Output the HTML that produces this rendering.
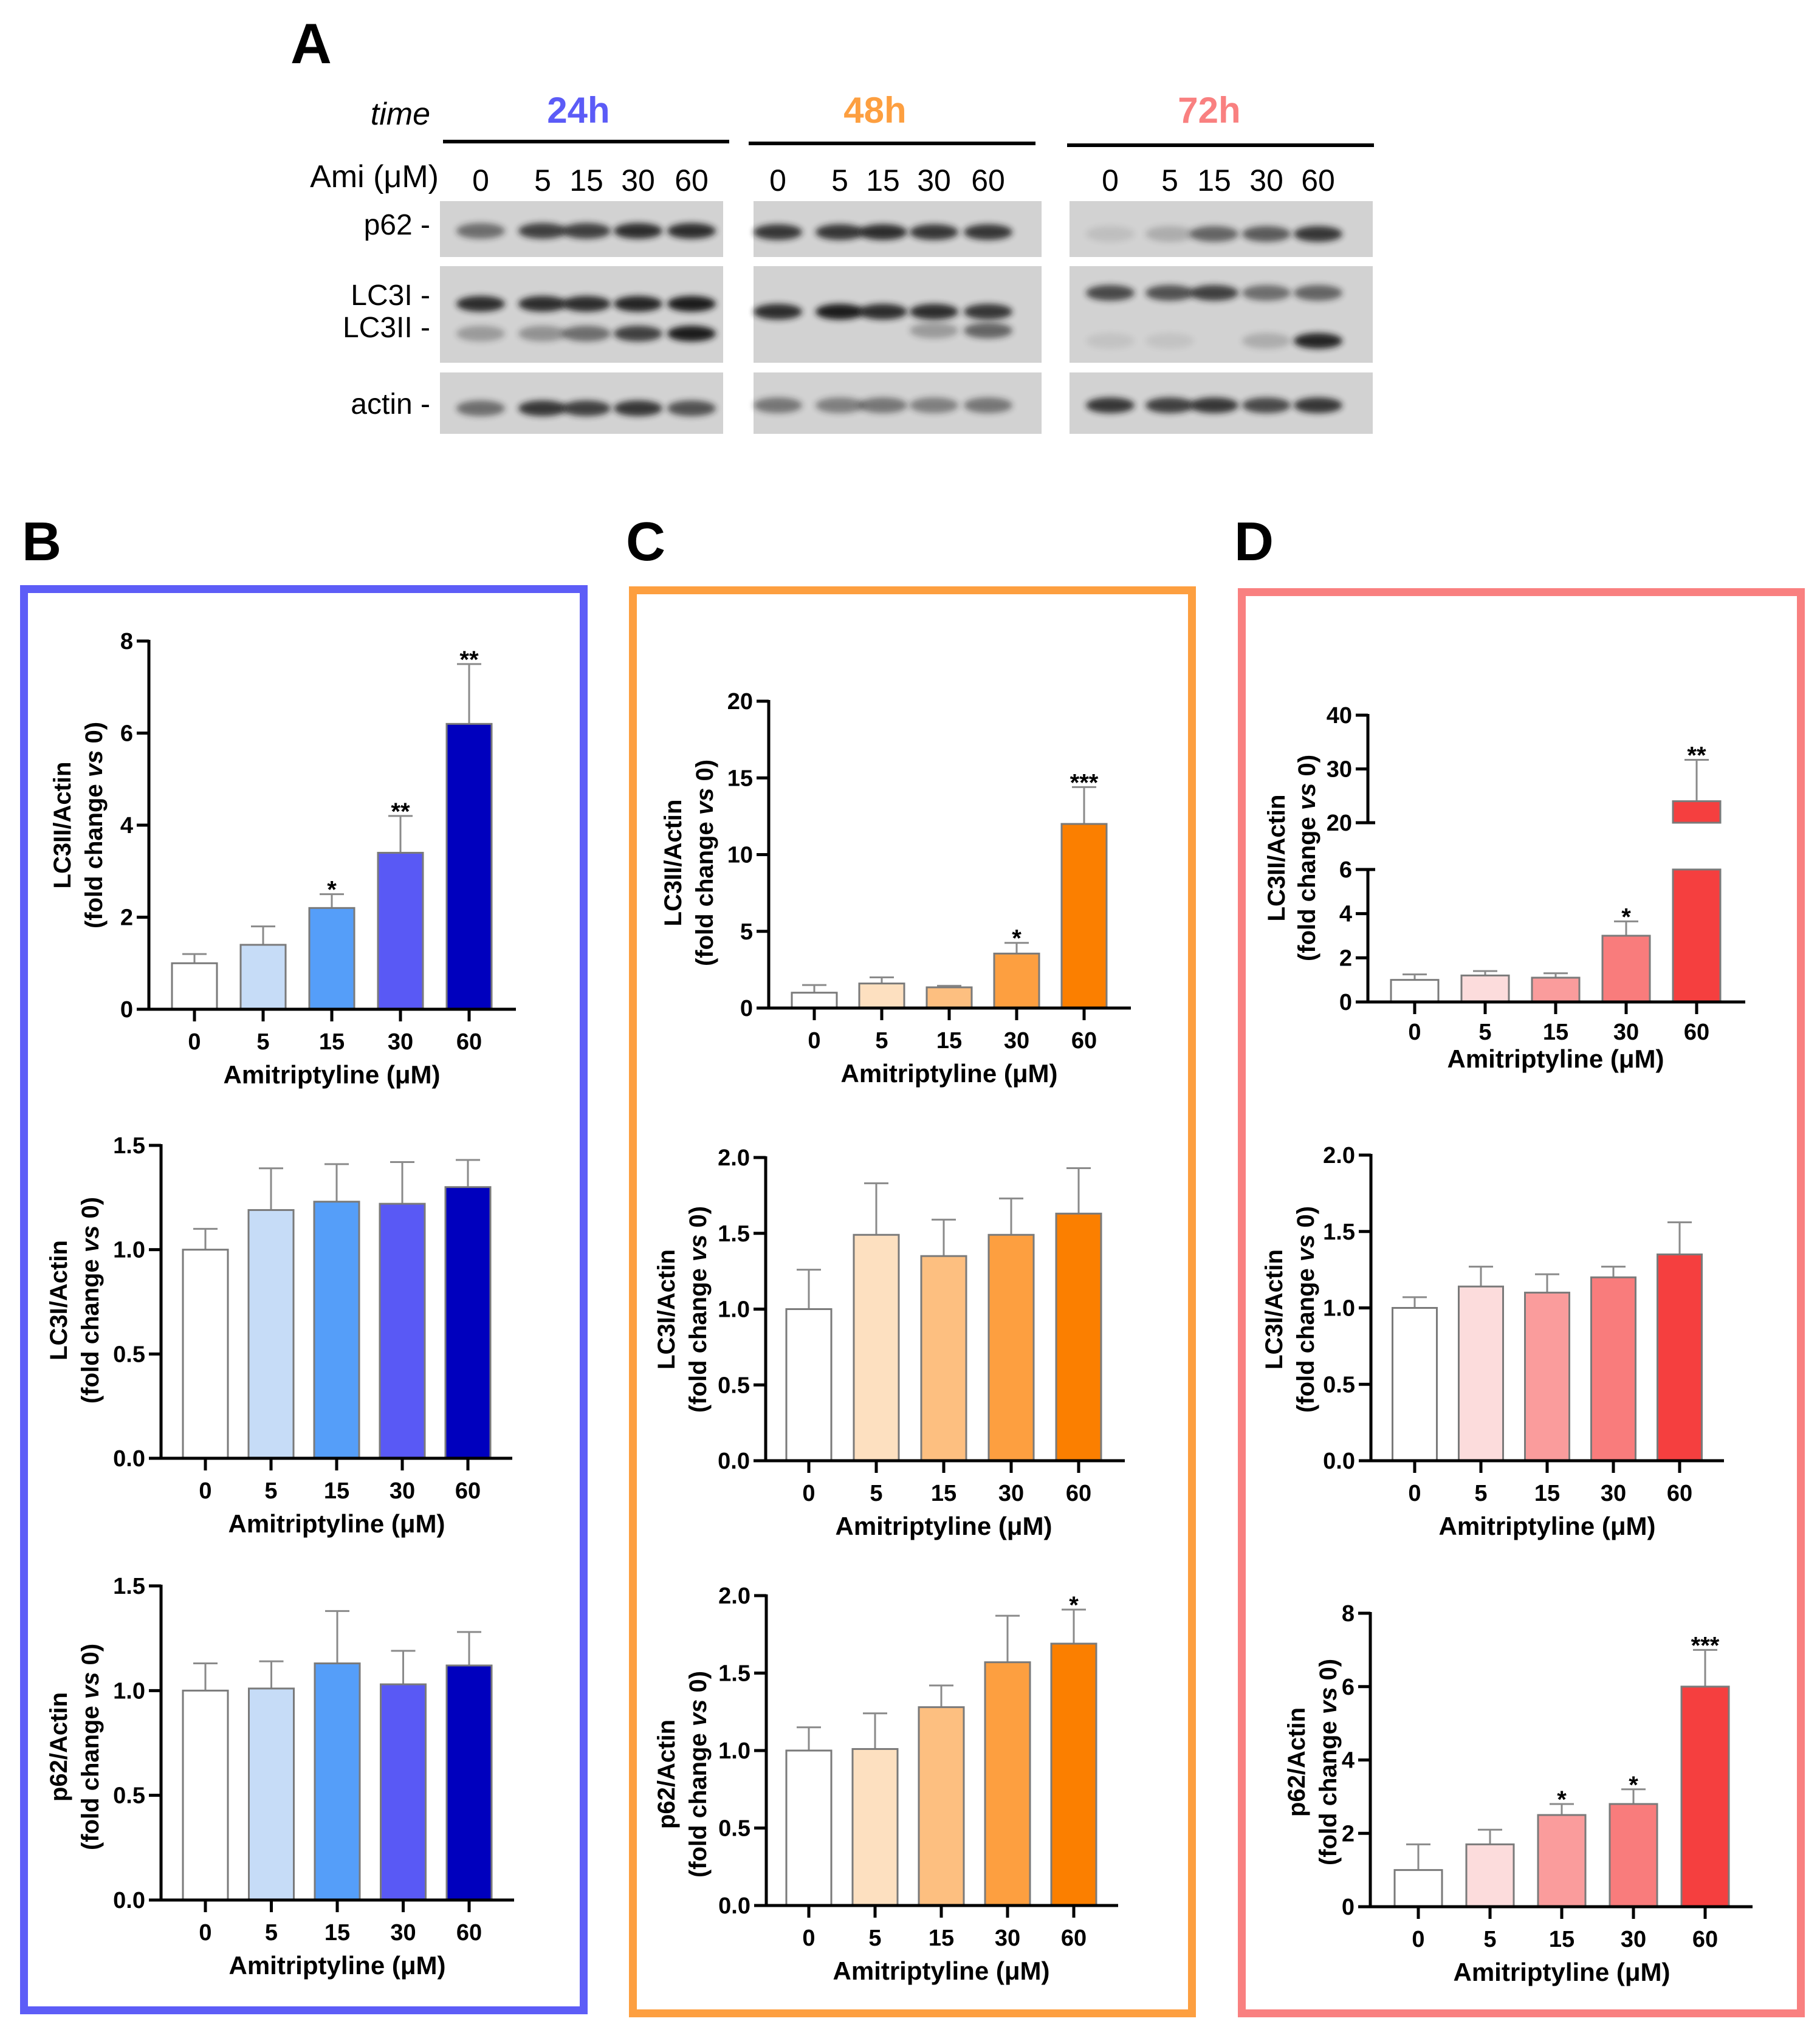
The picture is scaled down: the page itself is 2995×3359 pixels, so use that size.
<!DOCTYPE html>
<html><head><meta charset="utf-8"><style>
html,body{margin:0;padding:0;background:#fff}
svg{display:block}
text{font-family:"Liberation Sans",Arial,sans-serif}
</style></head><body>
<svg id="fig" width="2995" height="3359" viewBox="0 0 2995 3359" xmlns="http://www.w3.org/2000/svg">
<defs><filter id="blur" x="-50%" y="-100%" width="200%" height="300%"><feGaussianBlur stdDeviation="5"/></filter></defs>
<rect x="0" y="0" width="2995" height="3359" fill="#fff"/>

<!-- Panel A -->
<g>
<text x="478" y="104" font-size="94" font-weight="bold">A</text>
<text x="708" y="205" font-size="52" font-style="italic" text-anchor="end">time</text>
<text x="952" y="202" font-size="60" font-weight="bold" fill="#5b5bf7" text-anchor="middle">24h</text>
<text x="1440" y="202" font-size="60" font-weight="bold" fill="#fd9f40" text-anchor="middle">48h</text>
<text x="1990" y="202" font-size="60" font-weight="bold" fill="#f98080" text-anchor="middle">72h</text>
<rect x="729" y="230" width="471" height="6" fill="#000"/>
<rect x="1232" y="233" width="472" height="6" fill="#000"/>
<rect x="1756" y="236" width="505" height="6" fill="#000"/>
<text x="722" y="308" font-size="52" text-anchor="end">Ami (μM)</text>
<g id="lanes"></g>
<text x="708" y="386" font-size="48" text-anchor="end">p62 -</text>
<text x="708" y="502" font-size="48" text-anchor="end">LC3I -</text>
<text x="708" y="555" font-size="48" text-anchor="end">LC3II -</text>
<text x="708" y="681" font-size="48" text-anchor="end">actin -</text>
<g id="blots"></g>
</g>

<!-- Panel letters & boxes -->
<text x="36" y="922" font-size="90" font-weight="bold">B</text>
<text x="1030" y="922" font-size="90" font-weight="bold">C</text>
<text x="2031" y="922" font-size="90" font-weight="bold">D</text>
<rect x="39.5" y="969.5" width="921" height="2339" fill="none" stroke="#5d5df7" stroke-width="13"/>
<rect x="1041.5" y="971.5" width="920" height="2342" fill="none" stroke="#fd9f40" stroke-width="13"/>
<rect x="2043.5" y="974.5" width="920" height="2339" fill="none" stroke="#f98080" stroke-width="13"/>
<g id="charts"></g>
</svg>
<script>
const categories = ['0','5','15','30','60'];
const blueColors = ['#ffffff','#c6dcf7','#559ef9','#5959f5','#0000be'];
const orangeColors = ['#ffffff','#fde0c0','#fdbf80','#fd9f40','#fb7f00'];
const redColors = ['#ffffff','#fcdcdc','#fa9c9c','#f97c7c','#f53f3f'];

const b1Values = [1.0, 1.4, 2.2, 3.4, 6.2];
const b1Errors = [0.2, 0.4, 0.3, 0.8, 1.3];
const b1Stars = ['', '', '*', '**', '**'];
const b1Ticks = [0, 2, 4, 6, 8];
const b1TickLabels = ['0', '2', '4', '6', '8'];

const b2Values = [1.0, 1.19, 1.23, 1.22, 1.30];
const b2Errors = [0.10, 0.20, 0.18, 0.20, 0.13];
const b2Stars = ['', '', '', '', ''];
const b2Ticks = [0, 0.5, 1.0, 1.5];
const b2TickLabels = ['0.0', '0.5', '1.0', '1.5'];

const b3Values = [1.0, 1.01, 1.13, 1.03, 1.12];
const b3Errors = [0.13, 0.13, 0.25, 0.16, 0.16];
const b3Stars = ['', '', '', '', ''];
const b3Ticks = [0, 0.5, 1.0, 1.5];
const b3TickLabels = ['0.0', '0.5', '1.0', '1.5'];

const c1Values = [1.0, 1.6, 1.35, 3.55, 12.0];
const c1Errors = [0.5, 0.4, 0.1, 0.7, 2.4];
const c1Stars = ['', '', '', '*', '***'];
const c1Ticks = [0, 5, 10, 15, 20];
const c1TickLabels = ['0', '5', '10', '15', '20'];

const c2Values = [1.0, 1.49, 1.35, 1.49, 1.63];
const c2Errors = [0.26, 0.34, 0.24, 0.24, 0.30];
const c2Stars = ['', '', '', '', ''];
const c2Ticks = [0, 0.5, 1.0, 1.5, 2.0];
const c2TickLabels = ['0.0', '0.5', '1.0', '1.5', '2.0'];

const c3Values = [1.0, 1.01, 1.28, 1.57, 1.69];
const c3Errors = [0.15, 0.23, 0.14, 0.30, 0.22];
const c3Stars = ['', '', '', '', '*'];
const c3Ticks = [0, 0.5, 1.0, 1.5, 2.0];
const c3TickLabels = ['0.0', '0.5', '1.0', '1.5', '2.0'];

const d1Values = [1.0, 1.2, 1.1, 3.0, 24.0];
const d1Errors = [0.25, 0.2, 0.2, 0.65, 7.7];
const d1Stars = ['', '', '', '*', '**'];
const d1LowTicks = [0, 2, 4, 6];
const d1LowTickLabels = ['0', '2', '4', '6'];
const d1HighTicks = [20, 30, 40];
const d1HighTickLabels = ['20', '30', '40'];

const d2Values = [1.0, 1.14, 1.10, 1.20, 1.35];
const d2Errors = [0.07, 0.13, 0.12, 0.07, 0.21];
const d2Stars = ['', '', '', '', ''];
const d2Ticks = [0, 0.5, 1.0, 1.5, 2.0];
const d2TickLabels = ['0.0', '0.5', '1.0', '1.5', '2.0'];

const d3Values = [1.0, 1.7, 2.5, 2.8, 6.0];
const d3Errors = [0.7, 0.4, 0.3, 0.4, 1.0];
const d3Stars = ['', '', '*', '*', '***'];
const d3Ticks = [0, 2, 4, 6, 8];
const d3TickLabels = ['0', '2', '4', '6', '8'];

const NS = 'http://www.w3.org/2000/svg';
function mk(tag, attrs, parent, txt){
  const e = document.createElementNS(NS, tag);
  for (const k in attrs) e.setAttribute(k, attrs[k]);
  if (txt !== undefined) e.textContent = txt;
  parent.appendChild(e);
  return e;
}
const chartsG = document.getElementById('charts');

function drawChart(name, g, values, errors, stars, ticks, tickLabels, colors, title1){
  const grp = mk('g', {}, chartsG);
  
  
  const yMin = ticks[0], yMax = ticks[ticks.length-1];
  const yScale = v => g.y0 - (v - yMin) / (yMax - yMin) * (g.y0 - g.yTop);
  const xScale = i => g.c0 + i * g.sp;
  values.forEach((v, i) => {
    const cx = xScale(i), top = yScale(v + errors[i]), yv = yScale(v);
    const eb = mk('line', {x1:cx, y1:yv, x2:cx, y2:top, stroke:'#8a8a8a', 'stroke-width':3}, grp);
    
    
    const cap = mk('line', {x1:cx-20, y1:top, x2:cx+20, y2:top, stroke:'#8a8a8a', 'stroke-width':3}, grp);
    
    
    const r = mk('rect', {x:cx-g.bw/2, y:yv, width:g.bw, height:g.y0-yv, fill:colors[i], stroke:'#7a7a7a', 'stroke-width':3}, grp);
    
    
    if (stars[i]) {
      const s = mk('text', {x:cx, y:top+6, 'font-size':40, 'font-weight':'bold', 'text-anchor':'middle'}, grp, stars[i]);
      
      
    }
  });
  const ya = mk('line', {x1:g.ax, y1:g.y0+2, x2:g.ax, y2:g.yTop-2, stroke:'#000', 'stroke-width':5}, grp);
  
  
  const xa = mk('line', {x1:g.ax-20, y1:g.y0, x2:g.xEnd, y2:g.y0, stroke:'#000', 'stroke-width':5}, grp);
  
  
  ticks.forEach((t, i) => {
    const y = yScale(t);
    mk('line', {x1:g.ax-20, y1:y, x2:g.ax, y2:y, stroke:'#000', 'stroke-width':5}, grp);
    const tl = mk('text', {x:g.ax-26, y:y+13, 'font-size':38, 'font-weight':'bold', 'text-anchor':'end'}, grp, tickLabels[i]);
    
    
  });
  categories.forEach((c, i) => {
    const cx = xScale(i);
    mk('line', {x1:cx, y1:g.y0, x2:cx, y2:g.y0+20, stroke:'#000', 'stroke-width':5}, grp);
    const xl = mk('text', {x:cx, y:g.y0+66, 'font-size':38, 'font-weight':'bold', 'text-anchor':'middle'}, grp, c);
    
    
  });
  const xt = mk('text', {x:(xScale(0)+xScale(4))/2, y:g.y0+122, 'font-size':42, 'font-weight':'bold', 'text-anchor':'middle'}, grp, 'Amitriptyline (μM)');
  
  
  const yt = mk('text', {transform:'translate(' + g.tx + ',' + g.ty + ') rotate(-90)', 'font-size':40, 'font-weight':'bold', 'text-anchor':'middle'}, grp);
  
  
  mk('tspan', {x:0, y:0}, yt, title1);
  const ts = mk('tspan', {x:0, y:52}, yt, '(fold change ');
  mk('tspan', {'font-style':'italic'}, ts, 'vs');
  ts.appendChild(document.createTextNode(' 0)'));
}

drawChart('chart-b-lc3ii', {ax:245, y0:1661, yTop:1055, xEnd:849, c0:320, sp:113, bw:74, tx:116, ty:1358}, b1Values, b1Errors, b1Stars, b1Ticks, b1TickLabels, blueColors, 'LC3II/Actin');
drawChart('chart-b-lc3i', {ax:265, y0:2400, yTop:1885, xEnd:843, c0:338, sp:108, bw:74, tx:110, ty:2140}, b2Values, b2Errors, b2Stars, b2Ticks, b2TickLabels, blueColors, 'LC3I/Actin');
drawChart('chart-b-p62', {ax:265, y0:3127, yTop:2610, xEnd:846, c0:338, sp:108.5, bw:74, tx:110, ty:2875}, b3Values, b3Errors, b3Stars, b3Ticks, b3TickLabels, blueColors, 'p62/Actin');
drawChart('chart-c-lc3ii', {ax:1265, y0:1659, yTop:1154, xEnd:1861, c0:1340, sp:111, bw:74, tx:1121, ty:1420}, c1Values, c1Errors, c1Stars, c1Ticks, c1TickLabels, orangeColors, 'LC3II/Actin');
drawChart('chart-c-lc3i', {ax:1260, y0:2404, yTop:1905, xEnd:1851, c0:1331, sp:111, bw:74, tx:1110, ty:2155}, c2Values, c2Errors, c2Stars, c2Ticks, c2TickLabels, orangeColors, 'LC3I/Actin');
drawChart('chart-c-p62', {ax:1261, y0:3136, yTop:2626, xEnd:1840, c0:1331, sp:109, bw:74, tx:1110, ty:2920}, c3Values, c3Errors, c3Stars, c3Ticks, c3TickLabels, orangeColors, 'p62/Actin');
drawChart('chart-d-lc3i', {ax:2256, y0:2404, yTop:1901, xEnd:2837, c0:2328, sp:109, bw:73, tx:2110, ty:2155}, d2Values, d2Errors, d2Stars, d2Ticks, d2TickLabels, redColors, 'LC3I/Actin');
drawChart('chart-d-p62', {ax:2255, y0:3138, yTop:2655, xEnd:2884, c0:2334, sp:118, bw:78, tx:2147, ty:2900}, d3Values, d3Errors, d3Stars, d3Ticks, d3TickLabels, redColors, 'p62/Actin');

(function(){
  const g = {ax:2251, y0:1649, lowTop:1431, highBot:1354, highTop:1177, xEnd:2872, c0:2328, sp:116, bw:78};
  const lowMax = d1LowTicks[d1LowTicks.length-1], hiMin = d1HighTicks[0], hiMax = d1HighTicks[d1HighTicks.length-1];
  const yScale = v => v <= lowMax ? g.y0 - v / lowMax * (g.y0 - g.lowTop)
                                  : g.highBot - (v - hiMin) / (hiMax - hiMin) * (g.highBot - g.highTop);
  const xScale = i => g.c0 + i * g.sp;
  const grp = mk('g', {}, chartsG);
  
  
  d1Values.forEach((v, i) => {
    const cx = xScale(i), top = yScale(v + d1Errors[i]), yv = yScale(v);
    const eb = mk('line', {x1:cx, y1:yv, x2:cx, y2:top, stroke:'#8a8a8a', 'stroke-width':3}, grp);
    
    
    const cap = mk('line', {x1:cx-20, y1:top, x2:cx+20, y2:top, stroke:'#8a8a8a', 'stroke-width':3}, grp);
    
    
    if (v <= lowMax) {
      const r = mk('rect', {x:cx-g.bw/2, y:yv, width:g.bw, height:g.y0-yv, fill:redColors[i], stroke:'#7a7a7a', 'stroke-width':3}, grp);
      
      
    } else {
      const r1 = mk('rect', {x:cx-g.bw/2, y:g.lowTop, width:g.bw, height:g.y0-g.lowTop, fill:redColors[i], stroke:'#7a7a7a', 'stroke-width':3}, grp);
      
      
      const r2 = mk('rect', {x:cx-g.bw/2, y:yv, width:g.bw, height:g.highBot-yv, fill:redColors[i], stroke:'#7a7a7a', 'stroke-width':3}, grp);
      
      
    }
    if (d1Stars[i]) {
      const s = mk('text', {x:cx, y:top+6, 'font-size':40, 'font-weight':'bold', 'text-anchor':'middle'}, grp, d1Stars[i]);
      
      
    }
  });
  const ya1 = mk('line', {x1:g.ax, y1:g.y0+2, x2:g.ax, y2:g.lowTop-2, stroke:'#000', 'stroke-width':5}, grp);
  
  
  const ya2 = mk('line', {x1:g.ax, y1:g.highBot+2, x2:g.ax, y2:g.highTop-2, stroke:'#000', 'stroke-width':5}, grp);
  
  
  mk('line', {x1:g.ax, y1:g.lowTop, x2:g.ax+12, y2:g.lowTop, stroke:'#000', 'stroke-width':5}, grp);
  mk('line', {x1:g.ax, y1:g.highBot, x2:g.ax+12, y2:g.highBot, stroke:'#000', 'stroke-width':5}, grp);
  const xa = mk('line', {x1:g.ax-20, y1:g.y0, x2:g.xEnd, y2:g.y0, stroke:'#000', 'stroke-width':5}, grp);
  
  
  const allTicks = d1LowTicks.concat(d1HighTicks), allLabels = d1LowTickLabels.concat(d1HighTickLabels);
  allTicks.forEach((t, i) => {
    const y = yScale(t);
    mk('line', {x1:g.ax-20, y1:y, x2:g.ax, y2:y, stroke:'#000', 'stroke-width':5}, grp);
    const tl = mk('text', {x:g.ax-26, y:y+13, 'font-size':38, 'font-weight':'bold', 'text-anchor':'end'}, grp, allLabels[i]);
    
    
  });
  categories.forEach((c, i) => {
    const cx = xScale(i);
    mk('line', {x1:cx, y1:g.y0, x2:cx, y2:g.y0+20, stroke:'#000', 'stroke-width':5}, grp);
    const xl = mk('text', {x:cx, y:g.y0+62, 'font-size':38, 'font-weight':'bold', 'text-anchor':'middle'}, grp, c);
    
    
  });
  const xt = mk('text', {x:(xScale(0)+xScale(4))/2, y:g.y0+108, 'font-size':42, 'font-weight':'bold', 'text-anchor':'middle'}, grp, 'Amitriptyline (μM)');
  
  
  const yt = mk('text', {transform:'translate(2114,1412) rotate(-90)', 'font-size':40, 'font-weight':'bold', 'text-anchor':'middle'}, grp);
  
  
  mk('tspan', {x:0, y:0}, yt, 'LC3II/Actin');
  const ts = mk('tspan', {x:0, y:50}, yt, '(fold change ');
  mk('tspan', {'font-style':'italic'}, ts, 'vs');
  ts.appendChild(document.createTextNode(' 0)'));
})();

const laneX24 = [791, 893, 965, 1050, 1138];
const laneX48 = [1280, 1382, 1453, 1537, 1626];
const laneX72 = [1827, 1925, 1998, 2084, 2169];
const lanesG = document.getElementById('lanes');
[laneX24, laneX48, laneX72].forEach(arr => arr.forEach((x, i) => {
  const t = mk('text', {x:x, y:314, 'font-size':50, 'text-anchor':'middle'}, lanesG, categories[i]);
  
  
}));
const blotsG = document.getElementById('blots');
const groups = [
  {x:724, w:466, lanes:laneX24, p62:[0.55,0.8,0.8,0.9,0.9], p62y:380, lc1:[0.9,0.9,0.9,0.95,1], lc1y:500, lc2:[0.3,0.35,0.55,0.8,1], lc2y:549, act:[0.55,0.85,0.8,0.85,0.7], acty:672},
  {x:1240, w:474, lanes:laneX48, p62:[0.85,0.85,0.9,0.85,0.85], p62y:382, lc1:[0.9,1,0.9,0.9,0.85], lc1y:513, lc2:[0,0,0,0.3,0.6], lc2y:544, act:[0.5,0.45,0.5,0.45,0.5], acty:667},
  {x:1760, w:499, lanes:laneX72, p62:[0.1,0.2,0.6,0.65,0.85], p62y:385, lc1:[0.75,0.7,0.8,0.55,0.6], lc1y:482, lc2:[0.08,0.08,0,0.2,0.95], lc2y:561, act:[0.85,0.8,0.85,0.75,0.85], acty:667}
];
groups.forEach((gr) => {
  [[331,92],[438,159],[613,101]].forEach(([y,h]) => {
    const r = mk('rect', {x:gr.x, y:y, width:gr.w, height:h, fill:'#d2d2d2'}, blotsG);
    
    
  });
  [['p62','p62y'],['lc1','lc1y'],['lc2','lc2y'],['act','acty']].forEach(([k, ky]) => {
    gr[k].forEach((o, i) => {
      if (o <= 0) return;
      const b = mk('ellipse', {cx:gr.lanes[i], cy:gr[ky], rx:40, ry:13, fill:'#1e1e1e', opacity:o, filter:'url(#blur)'}, blotsG);
      
      
    });
  });
});
</script>
</body></html>
